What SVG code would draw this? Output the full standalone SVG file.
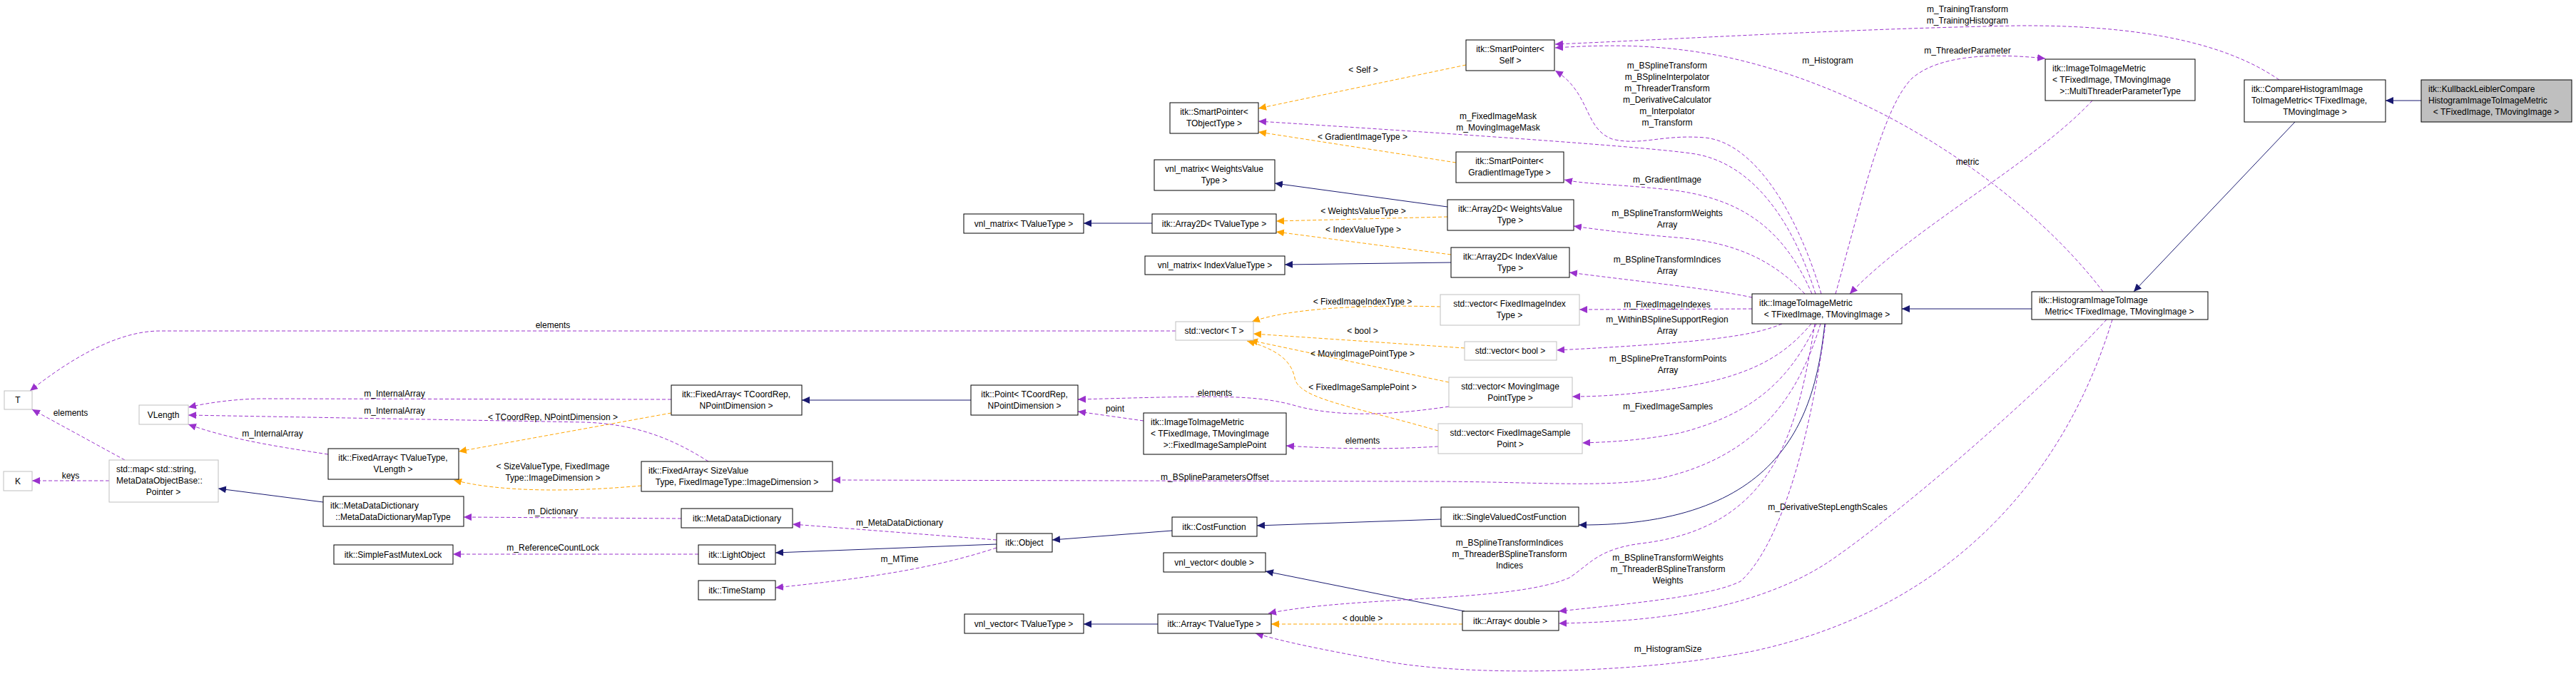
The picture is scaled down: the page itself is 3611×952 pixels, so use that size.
<svg xmlns="http://www.w3.org/2000/svg" width="3611" height="952" viewBox="0 0 3611 952">
<defs>
<style>
.n rect{fill:#fff;stroke:#000;stroke-width:1}
.g rect{fill:#fff;stroke:#bfbfbf;stroke-width:1}
.sel rect{fill:#bfbfbf;stroke:#000;stroke-width:1}
text{font-family:"Liberation Sans",Arial,sans-serif;font-size:12px;fill:#000}
.c{text-anchor:middle}
.inh{fill:none;stroke:#191970;stroke-width:1;marker-end:url(#ab)}
.use{fill:none;stroke:#9a32cd;stroke-width:1;stroke-dasharray:5,3;marker-end:url(#ap)}
.tpl{fill:none;stroke:#ffa500;stroke-width:1;stroke-dasharray:5,3;marker-end:url(#ao)}
</style>
<marker id="ab" markerUnits="userSpaceOnUse" markerWidth="12" markerHeight="10" refX="11" refY="5" orient="auto"><path d="M0,0 L11,5 L0,10 z" fill="#191970"/></marker>
<marker id="ap" markerUnits="userSpaceOnUse" markerWidth="12" markerHeight="10" refX="11" refY="5" orient="auto"><path d="M0,0 L11,5 L0,10 z" fill="#9a32cd"/></marker>
<marker id="ao" markerUnits="userSpaceOnUse" markerWidth="12" markerHeight="10" refX="11" refY="5" orient="auto"><path d="M0,0 L11,5 L0,10 z" fill="#ffa500"/></marker>
</defs>
<rect width="3611" height="952" fill="#fff"/>
<g id="edges">
<path class="inh" d="M3394,141 L3344,141"/>
<path class="inh" d="M3217,171 L2991,409"/>
<path class="inh" d="M2848,433 L2666,433"/>
<path class="inh" d="M2558,454 C2545,570 2510,738 2213,736"/>
<path class="inh" d="M2020,728 L1762,737"/>
<path class="inh" d="M1643,744 L1475,757"/>
<path class="inh" d="M1397,763 L1087,775"/>
<path class="inh" d="M453,704 L306,685"/>
<path class="inh" d="M1361,561 L1124,561"/>
<path class="inh" d="M1615,313 L1519,313"/>
<path class="inh" d="M2029,290 L1787,257"/>
<path class="inh" d="M2034,368 L1801,371"/>
<path class="inh" d="M1623,875 L1519,875"/>
<path class="inh" d="M2053,857 L1774,801"/>
<path class="tpl" d="M2055,91 L1764,152"/>
<path class="tpl" d="M2041,228 L1764,185"/>
<path class="tpl" d="M2029,304 L1789,310"/>
<path class="tpl" d="M2034,357 L1789,325"/>
<path class="tpl" d="M2019,430 C1950,428 1820,428 1755,451"/>
<path class="tpl" d="M2053,488 L1757,468"/>
<path class="tpl" d="M2031,536 L1752,477"/>
<path class="tpl" d="M2016,604 C1900,570 1820,560 1815,530 C1810,505 1790,490 1748,478"/>
<path class="tpl" d="M941,579 L643,633"/>
<path class="tpl" d="M899,681 C800,690 700,690 636,673"/>
<path class="tpl" d="M2050,875 L1782,875"/>
<path class="use" d="M1648,464 L224,464 C160,464 90,510 42,548"/>
<path class="use" d="M175,645 L45,574"/>
<path class="use" d="M153,674 L45,674"/>
<path class="use" d="M941,560 L370,559 C330,559 290,565 264,571"/>
<path class="use" d="M993,647 C950,620 900,595 820,592 L264,582"/>
<path class="use" d="M460,637 C380,625 320,615 264,595"/>
<path class="use" d="M955,727 L650,725"/>
<path class="use" d="M1397,757 L1111,735"/>
<path class="use" d="M979,777 L635,777"/>
<path class="use" d="M1397,768 C1300,800 1200,812 1087,824"/>
<path class="use" d="M1603,590 L1511,577"/>
<path class="use" d="M2031,570 C1950,582 1880,585 1820,570 C1760,552 1700,555 1511,560"/>
<path class="use" d="M2016,626 C1950,630 1880,630 1803,625"/>
<path class="use" d="M2553,412 C2520,300 2460,200 2390,193 C2330,188 2300,205 2260,195 C2220,180 2230,130 2180,99"/>
<path class="use" d="M2545,412 C2510,300 2450,225 2370,215 C2300,205 2000,185 1764,170"/>
<path class="use" d="M2540,412 C2500,320 2440,275 2330,265 C2260,258 2220,258 2193,252"/>
<path class="use" d="M2530,412 C2490,370 2440,340 2350,333 C2290,328 2240,322 2206,317"/>
<path class="use" d="M2456,417 C2400,405 2300,395 2200,382"/>
<path class="use" d="M2456,433 L2214,434"/>
<path class="use" d="M2498,454 C2460,470 2400,480 2182,491"/>
<path class="use" d="M2539,454 C2500,500 2450,535 2304,550 C2260,555 2230,556 2204,556"/>
<path class="use" d="M2546,454 C2510,530 2460,580 2355,607 C2300,618 2250,620 2218,621"/>
<path class="use" d="M2552,454 C2520,560 2460,640 2330,670 C2250,685 2150,675 2000,675 L1167,673"/>
<path class="use" d="M2544,454 C2520,600 2490,740 2300,762 C2240,770 2230,790 2200,810 C2120,845 1900,835 1778,860"/>
<path class="use" d="M2559,454 C2540,600 2500,760 2440,815 C2400,835 2300,845 2185,857"/>
<path class="use" d="M2953,448 C2850,560 2650,730 2560,790 C2450,860 2300,872 2185,874"/>
<path class="use" d="M2961,448 C2900,650 2750,850 2457,913 C2300,945 2050,950 1931,925 C1850,910 1800,900 1760,888"/>
<path class="use" d="M2948,409 C2850,280 2650,130 2420,80 C2330,62 2260,62 2180,67"/>
<path class="use" d="M3195,112 C3120,60 3000,35 2830,36 C2600,40 2350,55 2180,62"/>
<path class="use" d="M2573,412 C2610,280 2640,150 2680,110 C2720,75 2800,75 2867,82"/>
<path class="use" d="M2933,141 C2850,230 2680,320 2593,412"/>
</g>
<g id="labels">
<text class="c" x="1911" y="102">&lt; Self &gt;</text>
<text class="c" x="2100" y="167">m_FixedImageMask</text>
<text class="c" x="2100" y="183">m_MovingImageMask</text>
<text class="c" x="1910" y="196">&lt; GradientImageType &gt;</text>
<text class="c" x="1911" y="300">&lt; WeightsValueType &gt;</text>
<text class="c" x="1911" y="326">&lt; IndexValueType &gt;</text>
<text class="c" x="1910" y="427">&lt; FixedImageIndexType &gt;</text>
<text class="c" x="1910" y="468">&lt; bool &gt;</text>
<text class="c" x="1910" y="500">&lt; MovingImagePointType &gt;</text>
<text class="c" x="1910" y="547">&lt; FixedImageSamplePoint &gt;</text>
<text class="c" x="1703" y="555">elements</text>
<text class="c" x="1563" y="577">point</text>
<text class="c" x="1910" y="622">elements</text>
<text class="c" x="1703" y="673">m_BSplineParametersOffset</text>
<text class="c" x="1910" y="871">&lt; double &gt;</text>
<text class="c" x="553" y="556">m_InternalArray</text>
<text class="c" x="553" y="580">m_InternalArray</text>
<text class="c" x="775" y="589">&lt; TCoordRep, NPointDimension &gt;</text>
<text class="c" x="382" y="612">m_InternalArray</text>
<text class="c" x="775" y="658">&lt; SizeValueType, FixedImage</text>
<text class="c" x="775" y="674">Type::ImageDimension &gt;</text>
<text class="c" x="775" y="721">m_Dictionary</text>
<text class="c" x="1261" y="737">m_MetaDataDictionary</text>
<text class="c" x="775" y="772">m_ReferenceCountLock</text>
<text class="c" x="1261" y="788">m_MTime</text>
<text class="c" x="99" y="583">elements</text>
<text class="c" x="99" y="671">keys</text>
<text class="c" x="775" y="460">elements</text>
<text class="c" x="2758" y="17">m_TrainingTransform</text>
<text class="c" x="2758" y="33">m_TrainingHistogram</text>
<text class="c" x="2758" y="75">m_ThreaderParameter</text>
<text class="c" x="2562" y="89">m_Histogram</text>
<text class="c" x="2337" y="96">m_BSplineTransform</text>
<text class="c" x="2337" y="112">m_BSplineInterpolator</text>
<text class="c" x="2337" y="128">m_ThreaderTransform</text>
<text class="c" x="2337" y="144">m_DerivativeCalculator</text>
<text class="c" x="2337" y="160">m_Interpolator</text>
<text class="c" x="2337" y="176">m_Transform</text>
<text class="c" x="2758" y="231">metric</text>
<text class="c" x="2337" y="256">m_GradientImage</text>
<text class="c" x="2337" y="303">m_BSplineTransformWeights</text>
<text class="c" x="2337" y="319">Array</text>
<text class="c" x="2337" y="368">m_BSplineTransformIndices</text>
<text class="c" x="2337" y="384">Array</text>
<text class="c" x="2337" y="431">m_FixedImageIndexes</text>
<text class="c" x="2337" y="452">m_WithinBSplineSupportRegion</text>
<text class="c" x="2337" y="468">Array</text>
<text class="c" x="2338" y="507">m_BSplinePreTransformPoints</text>
<text class="c" x="2338" y="523">Array</text>
<text class="c" x="2338" y="574">m_FixedImageSamples</text>
<text class="c" x="2562" y="715">m_DerivativeStepLengthScales</text>
<text class="c" x="2116" y="765">m_BSplineTransformIndices</text>
<text class="c" x="2116" y="781">m_ThreaderBSplineTransform</text>
<text class="c" x="2116" y="797">Indices</text>
<text class="c" x="2338" y="786">m_BSplineTransformWeights</text>
<text class="c" x="2338" y="802">m_ThreaderBSplineTransform</text>
<text class="c" x="2338" y="818">Weights</text>
<text class="c" x="2338" y="914">m_HistogramSize</text>
</g>
<g id="n_kl" class="sel"><rect x="3394" y="112" width="211" height="59"/><text x="3404" y="129">itk::KullbackLeiblerCompare</text><text x="3404" y="145">HistogramImageToImageMetric</text><text class="c" x="3499" y="161">&lt; TFixedImage, TMovingImage &gt;</text></g>
<g id="n_cmp" class="n"><rect x="3146" y="112" width="198" height="59"/><text x="3156" y="129">itk::CompareHistogramImage</text><text x="3156" y="145">ToImageMetric&lt; TFixedImage,</text><text class="c" x="3245" y="161">TMovingImage &gt;</text></g>
<g id="n_mt" class="n"><rect x="2867" y="83" width="210" height="58"/><text x="2877" y="100">itk::ImageToImageMetric</text><text x="2877" y="116">&lt; TFixedImage, TMovingImage</text><text class="c" x="2972" y="132">&gt;::MultiThreaderParameterType</text></g>
<g id="n_hist" class="n"><rect x="2848" y="409" width="247" height="39"/><text x="2858" y="425">itk::HistogramImageToImage</text><text class="c" x="2971" y="441">Metric&lt; TFixedImage, TMovingImage &gt;</text></g>
<g id="n_itim" class="n"><rect x="2456" y="412" width="210" height="42"/><text x="2466" y="429">itk::ImageToImageMetric</text><text class="c" x="2561" y="445">&lt; TFixedImage, TMovingImage &gt;</text></g>
<g id="n_sps" class="n"><rect x="2055" y="56" width="124" height="43"/><text class="c" x="2117" y="73">itk::SmartPointer&lt;</text><text class="c" x="2117" y="89">Self &gt;</text></g>
<g id="n_spo" class="n"><rect x="1640" y="144" width="124" height="43"/><text class="c" x="1702" y="161">itk::SmartPointer&lt;</text><text class="c" x="1702" y="177">TObjectType &gt;</text></g>
<g id="n_spg" class="n"><rect x="2041" y="213" width="151" height="43"/><text class="c" x="2116" y="230">itk::SmartPointer&lt;</text><text class="c" x="2116" y="246">GradientImageType &gt;</text></g>
<g id="n_vmw" class="n"><rect x="1618" y="224" width="169" height="43"/><text class="c" x="1702" y="241">vnl_matrix&lt; WeightsValue</text><text class="c" x="1702" y="257">Type &gt;</text></g>
<g id="n_vmt" class="n"><rect x="1351" y="300" width="168" height="27"/><text class="c" x="1435" y="318">vnl_matrix&lt; TValueType &gt;</text></g>
<g id="n_a2t" class="n"><rect x="1615" y="300" width="174" height="27"/><text class="c" x="1702" y="318">itk::Array2D&lt; TValueType &gt;</text></g>
<g id="n_a2w" class="n"><rect x="2029" y="280" width="177" height="43"/><text class="c" x="2117" y="297">itk::Array2D&lt; WeightsValue</text><text class="c" x="2117" y="313">Type &gt;</text></g>
<g id="n_vmi" class="n"><rect x="1605" y="359" width="196" height="26"/><text class="c" x="1703" y="376">vnl_matrix&lt; IndexValueType &gt;</text></g>
<g id="n_a2i" class="n"><rect x="2034" y="347" width="166" height="42"/><text class="c" x="2117" y="364">itk::Array2D&lt; IndexValue</text><text class="c" x="2117" y="380">Type &gt;</text></g>
<g id="n_vfi" class="g"><rect x="2019" y="413" width="195" height="43"/><text class="c" x="2116" y="430">std::vector&lt; FixedImageIndex</text><text class="c" x="2116" y="446">Type &gt;</text></g>
<g id="n_vt" class="g"><rect x="1648" y="451" width="109" height="26"/><text class="c" x="1702" y="468">std::vector&lt; T &gt;</text></g>
<g id="n_vb" class="g"><rect x="2053" y="479" width="129" height="26"/><text class="c" x="2117" y="496">std::vector&lt; bool &gt;</text></g>
<g id="n_vmp" class="g"><rect x="2031" y="529" width="173" height="42"/><text class="c" x="2117" y="546">std::vector&lt; MovingImage</text><text class="c" x="2117" y="562">PointType &gt;</text></g>
<g id="n_vfs" class="g"><rect x="2016" y="594" width="202" height="42"/><text class="c" x="2117" y="611">std::vector&lt; FixedImageSample</text><text class="c" x="2117" y="627">Point &gt;</text></g>
<g id="n_svcf" class="n"><rect x="2020" y="711" width="193" height="27"/><text class="c" x="2116" y="729">itk::SingleValuedCostFunction</text></g>
<g id="n_ad" class="n"><rect x="2050" y="857" width="135" height="27"/><text class="c" x="2117" y="875">itk::Array&lt; double &gt;</text></g>
<g id="n_pt" class="n"><rect x="1361" y="540" width="150" height="42"/><text class="c" x="1436" y="557">itk::Point&lt; TCoordRep,</text><text class="c" x="1436" y="573">NPointDimension &gt;</text></g>
<g id="n_fsp" class="n"><rect x="1603" y="579" width="200" height="58"/><text x="1613" y="596">itk::ImageToImageMetric</text><text x="1613" y="612">&lt; TFixedImage, TMovingImage</text><text class="c" x="1703" y="628">&gt;::FixedImageSamplePoint</text></g>
<g id="n_cf" class="n"><rect x="1643" y="725" width="119" height="27"/><text class="c" x="1702" y="743">itk::CostFunction</text></g>
<g id="n_obj" class="n"><rect x="1397" y="748" width="78" height="26"/><text class="c" x="1436" y="765">itk::Object</text></g>
<g id="n_vvd" class="n"><rect x="1631" y="775" width="143" height="27"/><text class="c" x="1702" y="793">vnl_vector&lt; double &gt;</text></g>
<g id="n_vvt" class="n"><rect x="1352" y="861" width="167" height="27"/><text class="c" x="1435" y="879">vnl_vector&lt; TValueType &gt;</text></g>
<g id="n_at" class="n"><rect x="1623" y="861" width="159" height="27"/><text class="c" x="1702" y="879">itk::Array&lt; TValueType &gt;</text></g>
<g id="n_fac" class="n"><rect x="941" y="540" width="183" height="42"/><text class="c" x="1032" y="557">itk::FixedArray&lt; TCoordRep,</text><text class="c" x="1032" y="573">NPointDimension &gt;</text></g>
<g id="n_fav" class="n"><rect x="460" y="629" width="183" height="43"/><text class="c" x="551" y="646">itk::FixedArray&lt; TValueType,</text><text class="c" x="551" y="662">VLength &gt;</text></g>
<g id="n_fas" class="n"><rect x="899" y="647" width="268" height="42"/><text x="909" y="664">itk::FixedArray&lt; SizeValue</text><text class="c" x="1033" y="680">Type, FixedImageType::ImageDimension &gt;</text></g>
<g id="n_mdm" class="n"><rect x="453" y="696" width="197" height="42"/><text x="463" y="713">itk::MetaDataDictionary</text><text class="c" x="551" y="729">::MetaDataDictionaryMapType</text></g>
<g id="n_mdd" class="n"><rect x="955" y="713" width="156" height="27"/><text class="c" x="1033" y="731">itk::MetaDataDictionary</text></g>
<g id="n_sfm" class="n"><rect x="468" y="764" width="167" height="27"/><text class="c" x="551" y="782">itk::SimpleFastMutexLock</text></g>
<g id="n_lo" class="n"><rect x="979" y="764" width="108" height="27"/><text class="c" x="1033" y="782">itk::LightObject</text></g>
<g id="n_ts" class="n"><rect x="979" y="814" width="108" height="27"/><text class="c" x="1033" y="832">itk::TimeStamp</text></g>
<g id="n_map" class="g"><rect x="153" y="645" width="153" height="59"/><text x="163" y="662">std::map&lt; std::string,</text><text x="163" y="678">MetaDataObjectBase::</text><text class="c" x="229" y="694">Pointer &gt;</text></g>
<g id="n_k" class="g"><rect x="5" y="661" width="40" height="27"/><text class="c" x="25" y="679">K</text></g>
<g id="n_t" class="g"><rect x="6" y="548" width="39" height="26"/><text class="c" x="25" y="565">T</text></g>
<g id="n_vl" class="g"><rect x="195" y="568" width="69" height="27"/><text class="c" x="229" y="586">VLength</text></g>
</svg>
